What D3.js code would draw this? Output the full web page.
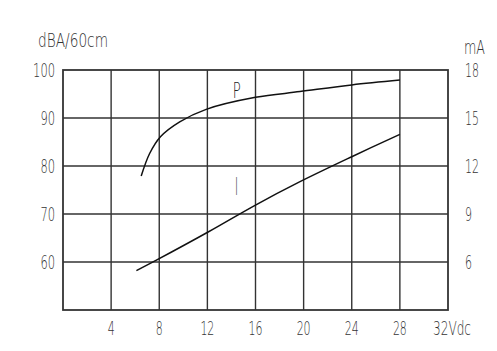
<!DOCTYPE html>
<html>
<head>
<meta charset="utf-8">
<script src="https://cdn.jsdelivr.net/npm/d3@7"></script>
<style>
  body { margin: 0; background: #fff; }
  text { font-family: "DejaVu Sans", "Liberation Sans", sans-serif; fill: #333; font-weight: 200; }
</style>
</head>
<body>
<svg id="chart" width="497" height="351"></svg>
<script>
// voltage (Vdc) vs sound level P (dBA/60cm)
var pVolt = [6.5, 7.2, 8.1, 9.7, 11.9, 16, 19.7, 24, 28];
var pDb   = [77.9, 82.6, 86.1, 89.2, 91.8, 94.3, 95.5, 96.9, 97.9];
// voltage vs current I (mA)
var iVolt = [6.1, 7.8, 12.1, 16, 19.7, 24, 28];
var iMa   = [5.46, 6.13, 7.89, 9.56, 11.02, 12.58, 13.98];

var xTicks = [4, 8, 12, 16, 20, 24, 28];
var leftTicks = [60, 70, 80, 90, 100];
var rightTicks = [6, 9, 12, 15, 18];

var margin = {top: 70, right: 49, bottom: 41, left: 63},
    width = 497 - margin.left - margin.right,
    height = 351 - margin.top - margin.bottom;

var x = d3.scaleLinear().domain([0, 32]).range([0, width]);
var yL = d3.scaleLinear().domain([50, 100]).range([height, 0]);
var yR = d3.scaleLinear().domain([3, 18]).range([height, 0]);

var svg = d3.select("#chart")
  .append("g")
  .attr("transform", "translate(" + margin.left + "," + margin.top + ")");

// narrow text: squeeze glyphs to the given width
function label(g, s, w, size) {
  return g.append("text")
    .attr("font-size", size || 20)
    .attr("textLength", w)
    .attr("lengthAdjust", "spacingAndGlyphs")
    .text(s);
}

// grid
svg.append("g")
  .selectAll("line")
  .data(xTicks)
  .enter()
  .append("line")
  .attr("x1", function (d) { return x(d); })
  .attr("x2", function (d) { return x(d); })
  .attr("y1", 0)
  .attr("y2", height)
  .style("stroke", "#333")
  .style("stroke-width", 1.4);

svg.append("g")
  .selectAll("line")
  .data(leftTicks.slice(0, -1))
  .enter()
  .append("line")
  .attr("x1", 0)
  .attr("x2", width)
  .attr("y1", function (d) { return yL(d); })
  .attr("y2", function (d) { return yL(d); })
  .style("stroke", "#333")
  .style("stroke-width", 1.6);

svg.append("rect")
  .attr("width", width)
  .attr("height", height)
  .style("fill", "none")
  .style("stroke", "#333")
  .style("stroke-width", 1.8);

// tick labels
leftTicks.forEach(function (d) {
  label(svg, d, String(d).length * 7.3)
    .attr("x", -8)
    .attr("y", yL(d) + 7)
    .attr("text-anchor", "end");
});

rightTicks.forEach(function (d) {
  label(svg, d, String(d).length * 7)
    .attr("x", width + 17)
    .attr("y", yR(d) + 7);
});

xTicks.forEach(function (d) {
  label(svg, d, String(d).length * 7)
    .attr("x", x(d))
    .attr("y", height + 25)
    .attr("text-anchor", "middle");
});

label(svg, "32Vdc", 38)
  .attr("x", x(32) - 15)
  .attr("y", height + 25);

label(svg, "dBA/60cm", 70)
  .attr("x", -25)
  .attr("y", -23);

label(svg, "mA", 21)
  .attr("x", width + 16)
  .attr("y", -16);

// curves
var pLine = d3.line()
  .x(function (d, i) { return x(pVolt[i]); })
  .y(function (d) { return yL(d); })
  .curve(d3.curveCatmullRom.alpha(0.5));

var iLine = d3.line()
  .x(function (d, i) { return x(iVolt[i]); })
  .y(function (d) { return yR(d); })
  .curve(d3.curveCatmullRom.alpha(0.5));

svg.append("path")
  .attr("d", pLine(pDb))
  .style("fill", "none")
  .style("stroke", "#111")
  .style("stroke-width", 1.5);

svg.append("path")
  .attr("d", iLine(iMa))
  .style("fill", "none")
  .style("stroke", "#111")
  .style("stroke-width", 1.5);

label(svg, "P", 8, 22)
  .attr("x", x(14.1))
  .attr("y", yL(94.2))
  .style("fill", "#222");

label(svg, "I", 3, 24)
  .attr("x", x(14.3))
  .attr("y", yL(74))
  .style("fill", "#222");
</script>
</body>
</html>
